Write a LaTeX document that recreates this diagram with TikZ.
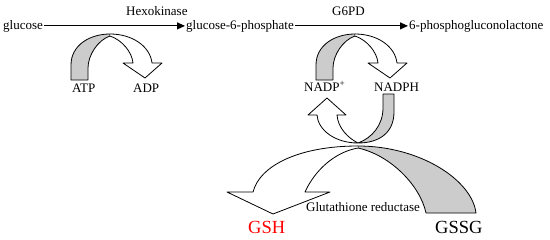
\documentclass[tikz,border=0pt]{standalone}
\usepackage{fontspec}
\setmainfont{Liberation Serif}
\usetikzlibrary{arrows.meta}
\begin{document}
\begin{tikzpicture}[x=1pt,y=-1pt,
 lbl/.style={font=\fontsize{13}{15}\selectfont, inner sep=0pt, anchor=base west},
 big/.style={font=\fontsize{18.5}{20}\selectfont, inner sep=0pt, anchor=base west},
 rxn/.style={-{Triangle[length=8pt,width=7pt]}, line width=0.9pt, shorten >=1pt, shorten <=1pt},
 band/.style={draw=black, line width=0.8pt, line join=round},
 whiteband/.style={band, fill=white},
 grayband/.style={band, fill=gray!40}]
\useasboundingbox (0,0) rectangle (550,239);
% labels
\node[lbl] (glc) at (3,29) {glucose};
\node[lbl] (g6p) at (186,29) {glucose-6-phosphate};
\node[lbl] (pgl) at (409,29) {6-phosphogluconolactone};
\node[lbl] (hk) at (126,15) {Hexokinase};
\node[lbl] (g6pd) at (332,15) {G6PD};
\node[lbl] (atp) at (72,92) {ATP};
\node[lbl] (adp) at (133,92) {ADP};
\node[lbl] (nadp) at (304,91) {NADP\textsuperscript{+}};
\node[lbl] (nadph) at (374,91) {NADPH};
\node[lbl] (gr) at (306,211) {Glutathione reductase};
\node[big, text=red] (gsh) at (248,233) {GSH};
\node[big] (gssg) at (435,233) {GSSG};
% reaction arrows
\draw[rxn] (glc) -- (g6p);
\draw[rxn] (g6p) -- (pgl);
% hexokinase ribbon
\filldraw[grayband] (71,80) -- (71,65) .. controls (71,45) and (90,34) .. (110,34) -- (110,36) .. controls (98,40) and (88,55) .. (88,68) -- (88,80) -- cycle;
\filldraw[whiteband] (110,34) .. controls (132,34) and (150,46) .. (152,63) -- (162,63) -- (145,78) -- (123,63) -- (133,63) .. controls (132,52) and (122,40) .. (110,36);
% G6PD ribbon
\begin{scope}[xshift=245pt]
\filldraw[grayband] (71,80) -- (71,65) .. controls (71,45) and (90,34) .. (110,34) -- (110,36) .. controls (98,40) and (88,55) .. (88,68) -- (88,80) -- cycle;
\filldraw[whiteband] (110,34) .. controls (132,34) and (150,46) .. (152,63) -- (162,63) -- (145,78) -- (123,63) -- (133,63) .. controls (132,52) and (122,40) .. (110,36);
\end{scope}
% NADPH -> NADP+ ribbon
\filldraw[grayband] (383,94) -- (394,94) -- (394,112) .. controls (394,132) and (380,143) .. (358,143) .. controls (372,138) and (383,125) .. (383,108) -- cycle;
\filldraw[whiteband] (358,143) .. controls (335,143) and (318,130) .. (317,115) -- (308,115) -- (327,98) -- (346,115) -- (337,115) .. controls (338,128) and (348,138) .. (358,143);
% glutathione reductase ribbon
\filldraw[grayband] (358,146) .. controls (420,146) and (472,180) .. (476,213) -- (426,213) .. controls (420,185) and (390,155) .. (358,148) -- cycle;
\filldraw[whiteband] (358,146) .. controls (300,146) and (260,165) .. (253,192) -- (227,192) -- (273,214) -- (330,192) -- (305,192) .. controls (315,170) and (335,152) .. (358,148);
\end{tikzpicture}
\end{document}
